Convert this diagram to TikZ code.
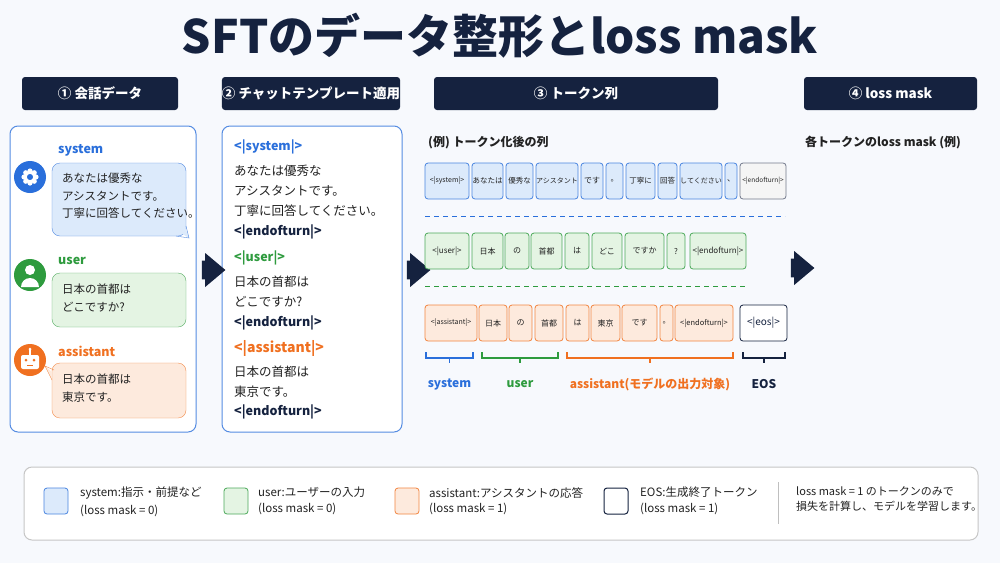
\documentclass[tikz,border=0pt]{standalone}
\usepackage{fontspec}
\setmainfont{Noto Sans CJK JP}
\usetikzlibrary{shapes.arrows,shapes.callouts}
\definecolor{navy}{HTML}{15223F}
\definecolor{cb}{HTML}{2A6FDB}\definecolor{fb}{HTML}{DCEAFB}
\definecolor{cg}{HTML}{2E9B3E}\definecolor{fg}{HTML}{E4F4E3}
\definecolor{co}{HTML}{F07020}\definecolor{fo}{HTML}{FDEADD}
\definecolor{txt}{HTML}{222222}
\newcommand\fs[1]{\fontsize{#1}{#1}\selectfont}
\newcommand\tk[7]{\node[#6,minimum width={#2pt-#1pt},minimum height={#4pt-#3pt}] (#7) at ({(#1+#2)/2},{(#3+#4)/2}) {#5};}
\begin{document}
\begin{tikzpicture}[x=1pt,y=-1pt,
  hdr/.style={fill=navy,rounded corners=3pt,text=white,font=\fs{13.5}\bfseries,inner sep=0},
  panel/.style={draw=cb!80,line width=1pt,rounded corners=8pt},
  tb/.style={draw=cb!85,line width=0.8pt,fill=fb,rounded corners=3pt,inner sep=0,font=\fs{8},text=txt},
  tg/.style={draw=cg!85,line width=0.8pt,fill=fg,rounded corners=3pt,inner sep=0,font=\fs{8},text=txt},
  to/.style={draw=co!85,line width=0.8pt,fill=fo,rounded corners=3pt,inner sep=0,font=\fs{8},text=txt},
  te/.style={draw=navy,line width=0.8pt,fill=white,rounded corners=3pt,inner sep=0,font=\fs{10},text=navy},
  body/.style={font=\fs{12.5},text=txt,anchor=west,inner sep=0},
  tag/.style={font=\fs{12.5}\bfseries,anchor=west,inner sep=0},
  bigarrow/.style={single arrow,fill=navy,minimum height=21pt,minimum width=34pt,single arrow head extend=5pt,inner sep=6pt,single arrow tip angle=80},
  lbl/.style={font=\fs{12}\bfseries,inner sep=0},
  brk/.style={line width=1.2pt}]
\fill[white!96!cb] (0,0) rectangle (1000,563);
\useasboundingbox (0,0) rectangle (1000,563);
\node[font=\fs{46}\bfseries,text=navy] (title) at (500,36) {SFTのデータ整形とloss mask};
% headers
\tk{22}{178}{77}{110}{① 会話データ}{hdr}{h1}
\tk{222}{400}{77}{110}{② チャットテンプレート適用}{hdr}{h2}
\tk{434}{718}{77}{110}{③ トークン列}{hdr}{h3}
\tk{804}{977}{77}{110}{④ loss mask}{hdr}{h4}
% panels
\draw[panel,fill=white] (10,126) rectangle (196,432);
\draw[panel,fill=white] (222,126) rectangle (402,432);
% arrows
\node[bigarrow] (a1) at (208,270) {};
\node[bigarrow] (a2) at (413,270) {};
\node[bigarrow] (a3) at (797,268) {};
% icons
\fill[cb] (30,177) circle (16);
\draw[white,line width=2.5pt] (30,177) circle (4.5);
\foreach \a in {0,45,...,315}{\fill[white] (30,177) ++(\a:6) circle (2.6);}
\fill[cb] (30,177) circle (2.5);
\fill[cg] (30,275) circle (16);
\fill[white] (30,270) circle (5);
\fill[white] (21,287) arc (180:0:9 and -9) -- cycle;
\fill[co] (30,360) circle (16);
\fill[white,rounded corners=2pt] (21,355) rectangle (39,369);
\draw[white,line width=1.2pt] (30,355) -- (30,350); \fill[white] (30,349) circle (1.5);
\fill[co] (26,360) circle (1.5); \fill[co] (34,360) circle (1.5);
\draw[co,line width=1pt] (27,365) -- (33,365);
% labels
\node[tag,text=cb] (ls) at (58,150) {system};
\node[tag,text=cg] (lu) at (58,261) {user};
\node[tag,text=co] (la) at (58,351) {assistant};
% bubbles
\draw[draw=cb!80,fill=fb,rounded corners=8pt] (52,163) rectangle (186,236);
\fill[fb] (176,230) -- (189,238) -- (184,224) -- cycle;
\draw[cb!80] (176,236) -- (189,238) -- (186,226);
\node[body,align=left,anchor=north west,font=\fs{11.5}] (b1) at (62,173) {あなたは優秀な\\[6pt]アシスタントです。\\[6pt]丁寧に回答してください。};
\draw[draw=cg!80,fill=fg,rounded corners=8pt] (52,273) rectangle (186,327);
\node[body,align=left,anchor=north west,font=\fs{11.5}] (b2) at (62,284) {日本の首都は\\[6pt]どこですか?};
\draw[draw=co!80,fill=fo,rounded corners=8pt] (52,363) rectangle (186,418);
\fill[fo] (52,372) -- (45,366) -- (52,380) -- cycle;
\draw[co!80] (52,380) -- (45,366) -- (54,370);
\node[body,align=left,anchor=north west,font=\fs{11.5}] (b3) at (62,374) {日本の首都は\\[6pt]東京です。};
% panel 2
\node[tag,text=cb] (p1) at (234,147) {<|system|>};
\node[body] (p2) at (234,171) {あなたは優秀な};
\node[body] (p3) at (234,191) {アシスタントです。};
\node[body] (p4) at (234,211) {丁寧に回答してください。};
\node[tag,text=navy] (p5) at (234,232) {<|endofturn|>};
\node[tag,text=cg] (p6) at (234,258) {<|user|>};
\node[body] (p7) at (234,282) {日本の首都は};
\node[body] (p8) at (234,302) {どこですか?};
\node[tag,text=navy] (p9) at (234,323) {<|endofturn|>};
\node[tag,text=co,font=\fs{14}\bfseries] (p10) at (234,348) {<|assistant|>};
\node[body] (p11) at (234,372) {日本の首都は};
\node[body] (p12) at (234,392) {東京です。};
\node[tag,text=navy] (p13) at (234,412) {<|endofturn|>};
% token section
\node[font=\fs{12}\bfseries,text=txt,anchor=west,inner sep=0] (ex) at (428,143) {(例) トークン化後の列};
\tk{425}{469}{163}{199}{\fs{7}<|system|>}{tb}{s1}
\tk{472}{503}{163}{199}{\fs{7.5}あなたは}{tb}{s2}
\tk{506}{533}{163}{199}{\fs{7.5}優秀な}{tb}{s3}
\tk{536}{578}{163}{199}{\fs{7}アシスタント}{tb}{s4}
\tk{581}{603}{163}{199}{です}{tb}{s5}
\tk{606}{623}{163}{199}{。}{tb}{s6}
\tk{626}{655}{163}{199}{\fs{7.5}丁寧に}{tb}{s7}
\tk{658}{677}{163}{199}{\fs{7.5}回答}{tb}{s8}
\tk{680}{722}{163}{199}{\fs{7}してください}{tb}{s9}
\tk{725}{737}{163}{199}{、}{tb}{s10}
\tk{740}{786}{163}{199}{\fs{6.5}<|endofturn|>}{tb,draw=navy!60,fill=gray!8}{s11}
\draw[cb,line width=1pt,dash pattern=on 5pt off 4pt] (425,216) -- (785,216);
\tk{425}{469}{233}{269}{<|user|>}{tg}{u1}
\tk{472}{503}{233}{269}{日本}{tg}{u2}
\tk{505}{529}{233}{269}{の}{tg}{u3}
\tk{531}{562}{233}{269}{首都}{tg}{u4}
\tk{565}{589}{233}{269}{は}{tg}{u5}
\tk{592}{622}{233}{269}{どこ}{tg}{u6}
\tk{625}{664}{233}{269}{ですか}{tg}{u7}
\tk{667}{685}{233}{269}{?}{tg}{u8}
\tk{690}{746}{233}{269}{<|endofturn|>}{tg}{u9}
\draw[cg,line width=1pt,dash pattern=on 5pt off 4pt] (425,286) -- (745,286);
\tk{425}{477}{305}{341}{\fs{7}<|assistant|>}{to}{r1}
\tk{479}{507}{305}{341}{日本}{to}{r2}
\tk{509}{532}{305}{341}{の}{to}{r3}
\tk{535}{563}{305}{341}{首都}{to}{r4}
\tk{566}{589}{305}{341}{は}{to}{r5}
\tk{591}{620}{305}{341}{東京}{to}{r6}
\tk{622}{657}{305}{341}{です}{to}{r7}
\tk{660}{673}{305}{341}{。}{to}{r8}
\tk{675}{733}{305}{341}{\fs{7.5}<|endofturn|>}{to}{r9}
\tk{740}{787}{305}{341}{<|eos|>}{te}{r10}
% brackets
\draw[brk,cb] (426,352) -- (426,358) -- (473,358) -- (473,352) (449.5,358) -- (449.5,363);
\draw[brk,cg] (482,352) -- (482,358) -- (558,358) -- (558,352) (520,358) -- (520,363);
\draw[brk,co] (567,352) -- (567,358) -- (733,358) -- (733,352) (650,358) -- (650,363);
\draw[brk,navy] (743,352) -- (743,358) -- (785,358) -- (785,352) (764,358) -- (764,363);
\node[lbl,text=cb] (bs) at (449.5,384) {system};
\node[lbl,text=cg] (bu) at (520,384) {user};
\node[lbl,text=co] (ba) at (650,384) {assistant(モデルの出力対象)};
\node[lbl,text=navy] (be) at (764,384) {EOS};
\node[font=\fs{12}\bfseries,text=txt,anchor=west,inner sep=0] (lm) at (805,143) {各トークンのloss mask (例)};
% legend
\draw[draw=gray!45,fill=white,rounded corners=8pt,line width=1pt] (24,467) rectangle (978,540);
\tk{44}{68}{488}{514}{}{tb}{k1}
\tk{224}{248}{488}{514}{}{tg}{k2}
\tk{395}{419}{488}{514}{}{to}{k3}
\tk{604}{628}{488}{514}{}{te,line width=1pt}{k4}
\node[body,anchor=north west,align=left,font=\fs{11.5}] (g1) at (80,487) {system:指示・前提など\\[4pt](loss mask = 0)};
\node[body,anchor=north west,align=left,font=\fs{11.5}] (g2) at (258,487) {user:ユーザーの入力\\[4pt](loss mask = 0)};
\node[body,anchor=north west,align=left,font=\fs{11.5}] (g3) at (429,487) {assistant:アシスタントの応答\\[4pt](loss mask = 1)};
\node[body,anchor=north west,align=left,font=\fs{11.5}] (g4) at (640,487) {EOS:生成終了トークン\\[4pt](loss mask = 1)};
\draw[gray!50,line width=1pt] (778,482) -- (778,524);
\node[body,anchor=north west,align=left,font=\fs{11}] (g5) at (796,486) {loss mask = 1 のトークンのみで\\[4pt]損失を計算し、モデルを学習します。};
\end{tikzpicture}
\end{document}
